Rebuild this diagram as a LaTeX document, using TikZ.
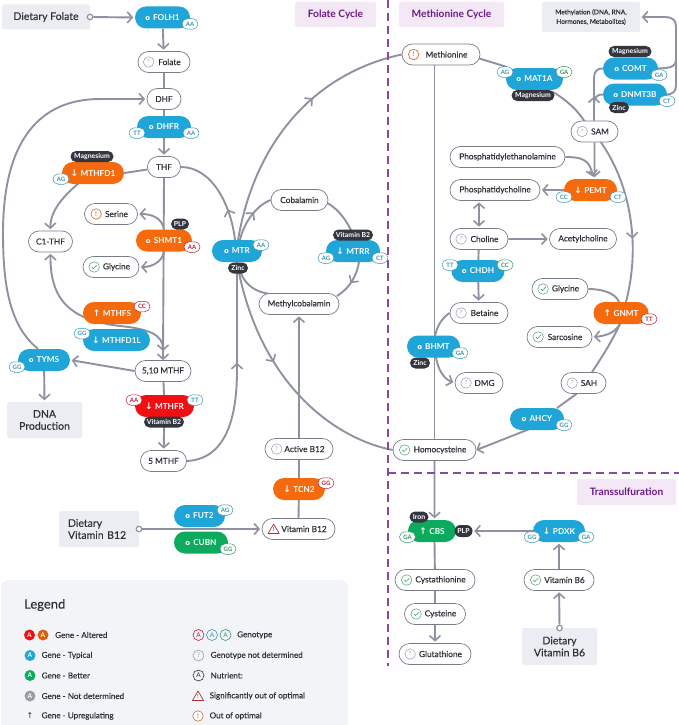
\documentclass[tikz,border=0pt]{standalone}
\usepackage{fontspec}
\setmainfont{Lato}
\newfontfamily\symf{DejaVu Sans}
\newfontfamily\medf{Lato}[FakeBold=0.2]
\usetikzlibrary{arrows.meta,shapes.misc,decorations.markings,calc}
\pgfdeclarelayer{bg}\pgfsetlayers{bg,main}
\definecolor{line}{HTML}{8E92A0}
\definecolor{gblue}{HTML}{1FA5D8}
\definecolor{gorange}{HTML}{F56A0C}
\definecolor{gred}{HTML}{F20F12}
\definecolor{ggreen}{HTML}{0BAA5C}
\definecolor{cofdark}{HTML}{33363F}
\definecolor{boxbg}{HTML}{ECEDF2}
\definecolor{legbg}{HTML}{F3F4F8}
\definecolor{ink}{HTML}{2E3038}
\definecolor{tagblue}{HTML}{3C93B4}
\definecolor{tagred}{HTML}{B32036}
\definecolor{taggreen}{HTML}{36966A}
\definecolor{okgreen}{HTML}{4E9C7C}
\definecolor{warnor}{HTML}{C96A2A}
\definecolor{warnred}{HTML}{B02A3A}
\definecolor{undet}{HTML}{9A9DA8}
\definecolor{cycbg}{HTML}{F4E8F7}
\definecolor{cycfg}{HTML}{6A1B86}
\newcommand{\gup}{{\symf\bfseries\fontsize{9}{8}\selectfont ↑}\hspace{2.5pt}}
\newcommand{\gdn}{{\symf\bfseries\fontsize{9}{8}\selectfont ↓}\hspace{2.5pt}}
\newcommand{\gor}{{\symf\bfseries\fontsize{7}{8}\selectfont o}\hspace{3pt}}
\newcommand{\ic}{\hspace*{11pt}}
\tikzset{
 chev/.tip={Straight Barb[length=5pt,width=11pt,line width=1.6pt]},
 conn/.style={draw=line,line width=1.9pt},
 arr/.style={conn,-{chev},shorten >=1.5pt},
 midarr/.style={postaction={decorate,decoration={markings,mark=at position #1 with {\arrow{chev}}}}},
 midrev/.style={postaction={decorate,decoration={markings,mark=at position #1 with {\arrowreversed{chev}}}}},
 nutr/.style={rounded rectangle,draw=line!85!black,line width=.7pt,fill=white,text=ink,inner sep=0pt,minimum height=21pt,font=\medf\fontsize{8.3}{9}\selectfont},
 gene/.style={rounded rectangle,fill=#1,text=white,inner sep=0pt,minimum height=22pt,font=\fontsize{8.2}{9}\selectfont\bfseries},
 cof/.style={rounded rectangle,fill=cofdark,text=white,inner sep=0pt,minimum height=11pt,font=\fontsize{6.9}{7}\selectfont\bfseries},
 tag/.style={rounded rectangle,draw=#1,fill=white,text=#1,line width=.5pt,inner sep=0pt,minimum width=16pt,minimum height=10.5pt,font=\fontsize{6}{7}\selectfont\bfseries},
 srcbox/.style={fill=boxbg,rounded corners=2pt,text=ink,inner sep=0pt,align=center,font=\medf\fontsize{10.5}{12}\selectfont},
 cycle/.style={fill=cycbg,rounded corners=1.5pt,text=cycfg,inner sep=0pt,font=\fontsize{10.2}{11}\selectfont\bfseries},
 openc/.style={circle,draw=line,fill=white,line width=1.2pt,inner sep=0pt,minimum size=5.5pt},
 dashdiv/.style={draw=cycfg!80!white,line width=1.2pt,dash pattern=on 8pt off 5pt},
 legt/.style={anchor=west,inner sep=0pt,text=ink,font=\medf\fontsize{8.1}{9}\selectfont},
 legf/.style={circle,fill=#1,text=white,inner sep=0pt,minimum size=11pt,font=\fontsize{6.5}{7}\selectfont\bfseries},
 lego/.style={circle,draw=#1,fill=none,text=#1,line width=.6pt,inner sep=0pt,minimum size=11pt,font=\fontsize{6.5}{7}\selectfont},
 iq/.pic={\node[circle,draw=undet,line width=.5pt,fill=white,text=undet,inner sep=0pt,minimum size=10.5pt,font=\fontsize{5.5}{6}\selectfont]{?};},
 iok/.pic={\node[circle,draw=okgreen,line width=.5pt,fill=white,inner sep=0pt,minimum size=10.5pt]{};\draw[okgreen,line width=.6pt](-2.3,0)--(-.7,1.6)--(2.4,-1.7);},
 iwarn/.pic={\node[circle,draw=warnor,line width=.6pt,fill=white,text=warnor,inner sep=0pt,minimum size=10.5pt,font=\fontsize{6.5}{7}\selectfont\bfseries]{!};},
 itri/.pic={\draw[warnred,line width=.7pt,fill=white,line join=round](0,-5)--(5.5,4.5)--(-5.5,4.5)--cycle;\node[text=warnred,inner sep=0pt,font=\fontsize{5.5}{6}\selectfont\bfseries] at (0,1){!};},
}
\begin{document}
\begin{tikzpicture}[x=1pt,y=-1pt]
\useasboundingbox (0,0) rectangle (679,725);
% legend panel
\begin{scope}
\clip (0,0) rectangle (679,725);
\fill[legbg,rounded corners=7pt] (1,580) rectangle (348,745);
\end{scope}
% headers
\node[cycle,minimum width=81pt,minimum height=25pt] (hfol) at (335.5,14.5) {Folate Cycle};
\node[cycle,minimum width=105pt,minimum height=25pt] (hmet) at (451.5,14.5) {Methionine Cycle};
\node[cycle,minimum width=99pt,minimum height=26pt,font=\fontsize{10.2}{11}\selectfont\bfseries] (htr) at (626.5,492) {Transsulfuration};
\coordinate (dv0) at (388,0); \coordinate (dv1) at (388,666);
\coordinate (dh0) at (388,473); \coordinate (dh1) at (679,473);
\draw[dashdiv] (dv0)--(dv1);
\draw[dashdiv] (dh0)--(dh1);
% sources
\node[srcbox,minimum width=88pt,minimum height=25pt] (dfol) at (46,17) {Dietary Folate};
\node[srcbox,minimum width=75pt,minimum height=36pt] (dna) at (44.5,420) {DNA\\Production};
\node[srcbox,minimum width=80pt,minimum height=36pt,text width=62pt,align=left] (db12) at (99,529) {Dietary\\Vitamin B12};
\node[srcbox,minimum width=75pt,minimum height=37pt] (db6) at (559.5,646.5) {Dietary\\Vitamin B6};
\node[srcbox,minimum width=98pt,minimum height=30pt,font=\medf\fontsize{6.6}{9.5}\selectfont] (methyl) at (591,17) {Methylation (DNA, RNA,\\Hormones, Metabolites)};
\node[openc] (cfol) at (90,17) {};
\node[openc] (cb12) at (139,529) {};
\node[openc] (cb6) at (559.5,628) {};
% nutrients
\node[nutr,minimum width=52pt] (folate) at (164,62) {\ic Folate};
\node[nutr,minimum width=34pt] (dhf) at (164,99) {DHF};
\node[nutr,minimum width=33pt] (thf) at (164,167) {THF};
\node[nutr,minimum width=53pt] (serine) at (111,214) {\ic Serine};
\node[nutr,minimum width=44pt] (c1thf) at (50.5,241.5) {C1-THF};
\node[nutr,minimum width=56pt] (glyL) at (111,267) {\ic Glycine};
\node[nutr,minimum width=56pt] (mthf510) at (163,371) {5,10 MTHF};
\node[nutr,minimum width=46pt] (mthf5) at (163.5,461) {5 MTHF};
\node[nutr,minimum width=57pt] (cobal) at (299.5,200) {Cobalamin};
\node[nutr,minimum width=80pt] (mecob) at (299,304) {Methylcobalamin};
\node[nutr,minimum width=68pt] (actb12) at (299,449) {\ic Active B12};
\node[nutr,minimum width=73pt] (vb12) at (298.5,529) {\ic Vitamin B12};
\node[nutr,minimum width=78pt] (met) at (441,54.5) {\ic Methionine};
\node[nutr,minimum width=47pt] (sam) at (594.5,131.5) {\ic SAM};
\node[nutr,minimum width=115pt] (pe) at (507.5,157) {Phosphatidylethanolamine};
\node[nutr,minimum width=90pt] (pc) at (495,190) {Phosphatidycholine};
\node[nutr,minimum width=58pt] (choline) at (479,239) {\ic Choline};
\node[nutr,minimum width=67pt] (ach) at (583,239) {Acetylcholine};
\node[nutr,minimum width=58pt] (betaine) at (479,313) {\ic Betaine};
\node[nutr,minimum width=48pt] (dmg) at (479,383) {\ic DMG};
\node[nutr,minimum width=56pt] (glyR) at (560,289) {\ic Glycine};
\node[nutr,minimum width=65pt] (sarc) at (559.5,337) {\ic Sarcosine};
\node[nutr,minimum width=45pt] (sah) at (583.5,383) {\ic SAH};
\node[nutr,minimum width=83pt] (hcy) at (434.5,450) {\ic Homocysteine};
\node[nutr,minimum width=80pt] (cysta) at (435,580) {\ic Cystathionine};
\node[nutr,minimum width=61pt] (cyst) at (435,614) {\ic Cysteine};
\node[nutr,minimum width=72pt] (gsh) at (435,654) {\ic Glutathione};
\node[nutr,minimum width=70pt] (vb6) at (559,580) {\ic Vitamin B6};
% genes
\node[gene=gblue,minimum width=55pt] (folh1) at (162.5,17.5) {\gor FOLH1};
\node[gene=gblue,minimum width=54pt] (dhfr) at (164,127) {\gor DHFR};
\node[gene=gorange,minimum width=62pt] (mthfd1) at (93,173) {\gdn MTHFD1};
\node[gene=gorange,minimum width=56pt] (shmt1) at (164,240.5) {\gor SHMT1};
\node[gene=gorange,minimum width=58pt] (mthfs) at (112,313) {\gup MTHFS};
\node[gene=gblue,minimum width=67pt] (mthfd1l) at (116.5,340) {\gdn MTHFD1L};
\node[gene=gblue,minimum width=52pt] (tyms) at (44,360) {\gor TYMS};
\node[gene=gred,minimum width=59pt] (mthfr) at (164.5,406) {\gdn MTHFR};
\node[gene=gblue,minimum width=50pt] (mtr) at (237,251) {\gor MTR};
\node[gene=gblue,minimum width=54pt] (mtrr) at (353,251) {\gdn MTRR};
\node[gene=gorange,minimum width=52pt] (tcn2) at (299,489) {\gdn TCN2};
\node[gene=gblue,minimum width=51pt] (fut2) at (199.5,516) {\gor FUT2};
\node[gene=ggreen,minimum width=54pt] (cubn) at (201,542.5) {\gor CUBN};
\node[gene=gblue,minimum width=57pt] (mat1a) at (534.5,79) {\gor MAT1A};
\node[gene=gblue,minimum width=55pt] (comt) at (630.5,68.5) {\gor COMT};
\node[gene=gblue,minimum width=64pt] (dnmt) at (635,94.5) {\gor DNMT3B};
\node[gene=gorange,minimum width=53pt] (pemt) at (590.5,190) {\gdn PEMT};
\node[gene=gblue,minimum width=53pt] (chdh) at (478,271) {\gor CHDH};
\node[gene=gblue,minimum width=53pt] (bhmt) at (433.5,346.5) {\gor BHMT};
\node[gene=gorange,minimum width=55pt] (gnmt) at (621,313) {\gup GNMT};
\node[gene=gblue,minimum width=54pt] (ahcy) at (537,419) {\gor AHCY};
\node[gene=ggreen,minimum width=48pt] (cbs) at (432,531) {\gup CBS};
\node[gene=gblue,minimum width=52pt] (pdxk) at (559,531) {\gdn PDXK};
% cofactors
\node[cof,minimum width=43pt] (cmg1) at (92,156.5) {Magnesium};
\node[cof,minimum width=18pt] (cplp1) at (180,224) {PLP};
\node[cof,minimum width=40pt] (cb2a) at (164,422) {Vitamin B2};
\node[cof,minimum width=20pt] (czn1) at (238,268) {Zinc};
\node[cof,minimum width=40pt] (cb2b) at (353,235) {Vitamin B2};
\node[cof,minimum width=43pt] (cmg2) at (533,95.5) {Magnesium};
\node[cof,minimum width=43pt] (cmg3) at (630,51.5) {Magnesium};
\node[cof,minimum width=20pt] (czn2) at (619,107.5) {Zinc};
\node[cof,minimum width=20pt] (czn3) at (420,363) {Zinc};
\node[cof,minimum width=19pt] (cfe) at (419,517) {Iron};
\node[cof,minimum width=18pt,minimum height=12pt] (cplp2) at (463.5,531) {PLP};
% genotypes
\node[tag=tagblue] (t01) at (190,24) {AA};
\node[tag=tagblue] (t02) at (137,133) {TT};
\node[tag=tagblue] (t03) at (191,133) {AA};
\node[tag=tagblue] (t04) at (61,179) {AG};
\node[tag=tagred] (t05) at (192,247) {AA};
\node[tag=tagred] (t06) at (142,306.5) {CC};
\node[tag=tagblue] (t07) at (82,333.5) {GG};
\node[tag=tagblue] (t08) at (17,367) {GG};
\node[tag=tagred] (t09) at (134,400) {AA};
\node[tag=tagblue] (t10) at (195,400) {TT};
\node[tag=tagblue] (t11) at (261,245) {AA};
\node[tag=tagblue] (t12) at (326,258) {AG};
\node[tag=tagblue] (t13) at (380,258) {CT};
\node[tag=tagred] (t14) at (326,483) {GG};
\node[tag=tagblue] (t15) at (225,510) {AG};
\node[tag=taggreen] (t16) at (228,549) {GG};
\node[tag=tagblue] (t17) at (505,72) {AG};
\node[tag=taggreen] (t18) at (564,72) {GA};
\node[tag=tagblue] (t19) at (659,75) {GA};
\node[tag=tagblue] (t20) at (667,101) {CT};
\node[tag=tagblue] (t21) at (564,197) {CC};
\node[tag=tagblue] (t22) at (618,197) {CT};
\node[tag=tagblue] (t23) at (450,265) {TT};
\node[tag=taggreen] (t24) at (505,265) {CC};
\node[tag=tagblue] (t25) at (460,353) {GA};
\node[tag=tagred] (t26) at (649,319) {TT};
\node[tag=tagblue] (t27) at (564,425) {GG};
\node[tag=taggreen] (t28) at (407.5,537) {GA};
\node[tag=tagblue] (t29) at (532,537) {GG};
\node[tag=tagblue] (t30) at (586,537) {GA};
% status icons
\pic at ([xshift=11pt]folate.west) {iq};
\pic at ([xshift=12pt]serine.west) {iwarn};
\pic at ([xshift=11.5pt]glyL.west) {iok};
\pic at ([xshift=12pt]actb12.west) {iq};
\pic at ([xshift=12pt]vb12.west) {itri};
\pic at ([xshift=12pt]met.west) {iwarn};
\pic at ([xshift=11.5pt]sam.west) {iq};
\pic at ([xshift=11.5pt]choline.west) {iq};
\pic at ([xshift=11.5pt]betaine.west) {iq};
\pic at ([xshift=11.5pt]dmg.west) {iq};
\pic at ([xshift=11.5pt]glyR.west) {iok};
\pic at ([xshift=11.5pt]sarc.west) {iok};
\pic at ([xshift=11.5pt]sah.west) {iq};
\pic at ([xshift=12pt]hcy.west) {iok};
\pic at ([xshift=12pt]cysta.west) {iok};
\pic at ([xshift=12pt]cyst.west) {iok};
\pic at ([xshift=11.5pt]gsh.west) {iq};
\pic at ([xshift=12pt]vb6.west) {iok};
% connectors
\begin{pgfonlayer}{bg}
\draw[arr] (cfol)--(folh1.west);
\draw[arr] (folh1)--(folate);
\draw[conn] (folate)--(dhf);
\draw[conn] (dhf)--(dhfr);
\draw[arr] (dhfr)--(thf);
\draw[conn] (thf)--(mthfd1.east);
\draw[arr] (mthfd1.south west) ++(7,-2) .. controls (58,200) and (50,215) .. (c1thf.north);
\draw[arr,shorten >=0pt] (thf.south)--(mthf510.north);
\draw[arr] (shmt1.north) .. controls (162,218) and (152,214) .. (serine.east);
\draw[arr] (shmt1.south) .. controls (162,262) and (152,267) .. (glyL.east);
\draw[conn,{chev}-{chev},shorten <=1.5pt,shorten >=10pt] (c1thf.south) .. controls (50,300) and (70,320) .. (120,326) .. controls (150,329) and (163,335) .. (163,361);
\draw[arr] (mthf510.west)--(tyms.east);
\draw[arr] (tyms.north west) ++(9,0) .. controls (8,325) and (3,280) .. (3,233) .. controls (3,140) and (40,99) .. (100,99) -- (dhf.west);
\draw[arr] (tyms)--(dna.north);
\draw[conn] (mthf510)--(mthfr);
\draw[arr] (mthfr)--(mthf5);
\draw[conn,midarr=.55] (mthf5.east) .. controls (225,459) and (237,420) .. (237,370) -- (mtr.south);
\draw[conn,midrev=.68] (thf.east) .. controls (212,167) and (231,205) .. (235,240);
\draw[conn,midarr=.62] (238,240) .. controls (256,135) and (320,72) .. (met.west);
\draw[conn,midarr=.6] (240,240) .. controls (243,225) and (255,206) .. (cobal.west);
\draw[conn] (cobal.east) ++(-1,3) .. controls (340,210) and (350,225) .. (355,240);
\draw[conn,midarr=.55] (359,262) .. controls (357,275) and (350,288) .. (337,296);
\draw[conn] (mecob.north west) ++(2,1) .. controls (252,292) and (243,282) .. (239,268);
\draw[conn] (vb12.north)--(tcn2);
\draw[conn] (tcn2)--(actb12);
\draw[arr] (actb12)--(mecob);
\draw[conn,midrev=.6] (hcy.west) .. controls (340,440) and (262,390) .. (238,268);
\draw[arr] (cb12)--(vb12.west);
% right side
\draw[conn] (met.east) ++(-1,4)--(507,67);
\draw[conn] (553,92) .. controls (568,101) and (578,111) .. (585,122);
\draw[conn,midarr=.62] (600,141) .. controls (628,180) and (642,240) .. (626,302);
\draw[conn] (met.south -| hcy.north)--(hcy.north);
\draw[conn] (betaine.west) .. controls (442,318) and (437,326) .. (435,336);
\draw[arr] (436,357) .. controls (438,370) and (444,379) .. (dmg.west);
\draw[arr] (hcy)--(cbs.north -| hcy.south);
\draw[conn] (cbs.south -| hcy.south)--(cysta);
\draw[conn] (cysta)--(cyst);
\draw[arr] (cyst)--(gsh);
\draw[arr] (pdxk.west)--(cplp2.east);
\draw[arr] (vb6)--(pdxk);
\draw[arr] (cb6)--(vb6);
\draw[conn,midarr=.42] (sam.north -| 594,0) -- (594,78) .. controls (594,72) and (597,68) .. (comt.west);
\draw[conn] (594,104) .. controls (594,98) and (597,94) .. (dnmt.west);
\draw[arr] (comt.east) .. controls (672,68) and (676,66) .. (676,60) -- (676,26) .. controls (676,20) and (672,17) .. (665,17) -- (methyl.east);
\draw[conn] (dnmt.east) .. controls (672,94) and (676,92) .. (676,86) -- (676,60);
\draw[arr] (sam)--(pemt.north -| sam.south);
\draw[arr] (pe.east) .. controls (582,157) and (590,160) .. (593,178);
\draw[arr] (pemt.west)--(pc.east);
\draw[conn,{chev}-{chev},shorten <=1.5pt,shorten >=1.5pt] (pc.south -| choline.north)--(choline.north);
\draw[arr] (choline)--(ach);
\draw[conn] (choline)--(chdh);
\draw[arr] (chdh)--(betaine);
\draw[conn] (glyR.east) .. controls (600,289) and (615,292) .. (619,302);
\draw[arr] (620,324) .. controls (615,333) and (605,336) .. (sarc.east);
\draw[conn] (620,324) .. controls (610,345) and (600,360) .. (592,372);
\draw[conn] (sah.south west) ++(5,0)--(557,408);
\draw[arr,shorten >=0pt] (ahcy.south west) ++(8,-1)--(hcy.east);
\end{pgfonlayer}
% legend
\node[anchor=west,inner sep=0pt,text=ink,font=\medf\fontsize{13}{15}\selectfont] (legt) at (24,605) {Legend};
\node[legf=gred] (l1) at (29.5,635) {A};
\node[legf=gorange!90!black] (l1b) at (43,635) {A};
\node[legt] (l1t) at (55,635) {Gene - Altered};
\node[legf=gblue] (l2) at (30,655.5) {A};
\node[legt] (l2t) at (41.5,655.5) {Gene - Typical};
\node[legf=ggreen] (l3) at (30,675.5) {A};
\node[legt] (l3t) at (41.5,675.5) {Gene - Better};
\node[legf=undet] (l4) at (30,696) {A};
\node[legt] (l4t) at (41.5,696) {Gene - Not determined};
\node[inner sep=0pt,text=ink,font=\symf\fontsize{8}{8}\selectfont] (l5) at (30,716) {↑};
\node[legt] (l5t) at (41.5,716) {Gene - Upregulating};
\node[lego=tagred] (r1a) at (198.5,635) {A};
\node[lego=tagblue] (r1b) at (212,635) {A};
\node[lego=taggreen] (r1c) at (225.5,635) {A};
\node[legt] (r1t) at (237,635) {Genotype};
\node[lego=undet] (r2) at (198.5,655.5) {?};
\node[legt] (r2t) at (210.5,655.5) {Genotype not determined};
\node[lego=ink] (r3) at (198.5,675.5) {A};
\node[legt] (r3t) at (210.5,675.5) {Nutrient:};
\pic at (198,696) {itri};
\node[legt] (r4t) at (209.5,696) {Significantly out of optimal};
\pic at (198,716) {iwarn};
\node[legt] (r5t) at (209.5,716) {Out of optimal};
\end{tikzpicture}
\end{document}
